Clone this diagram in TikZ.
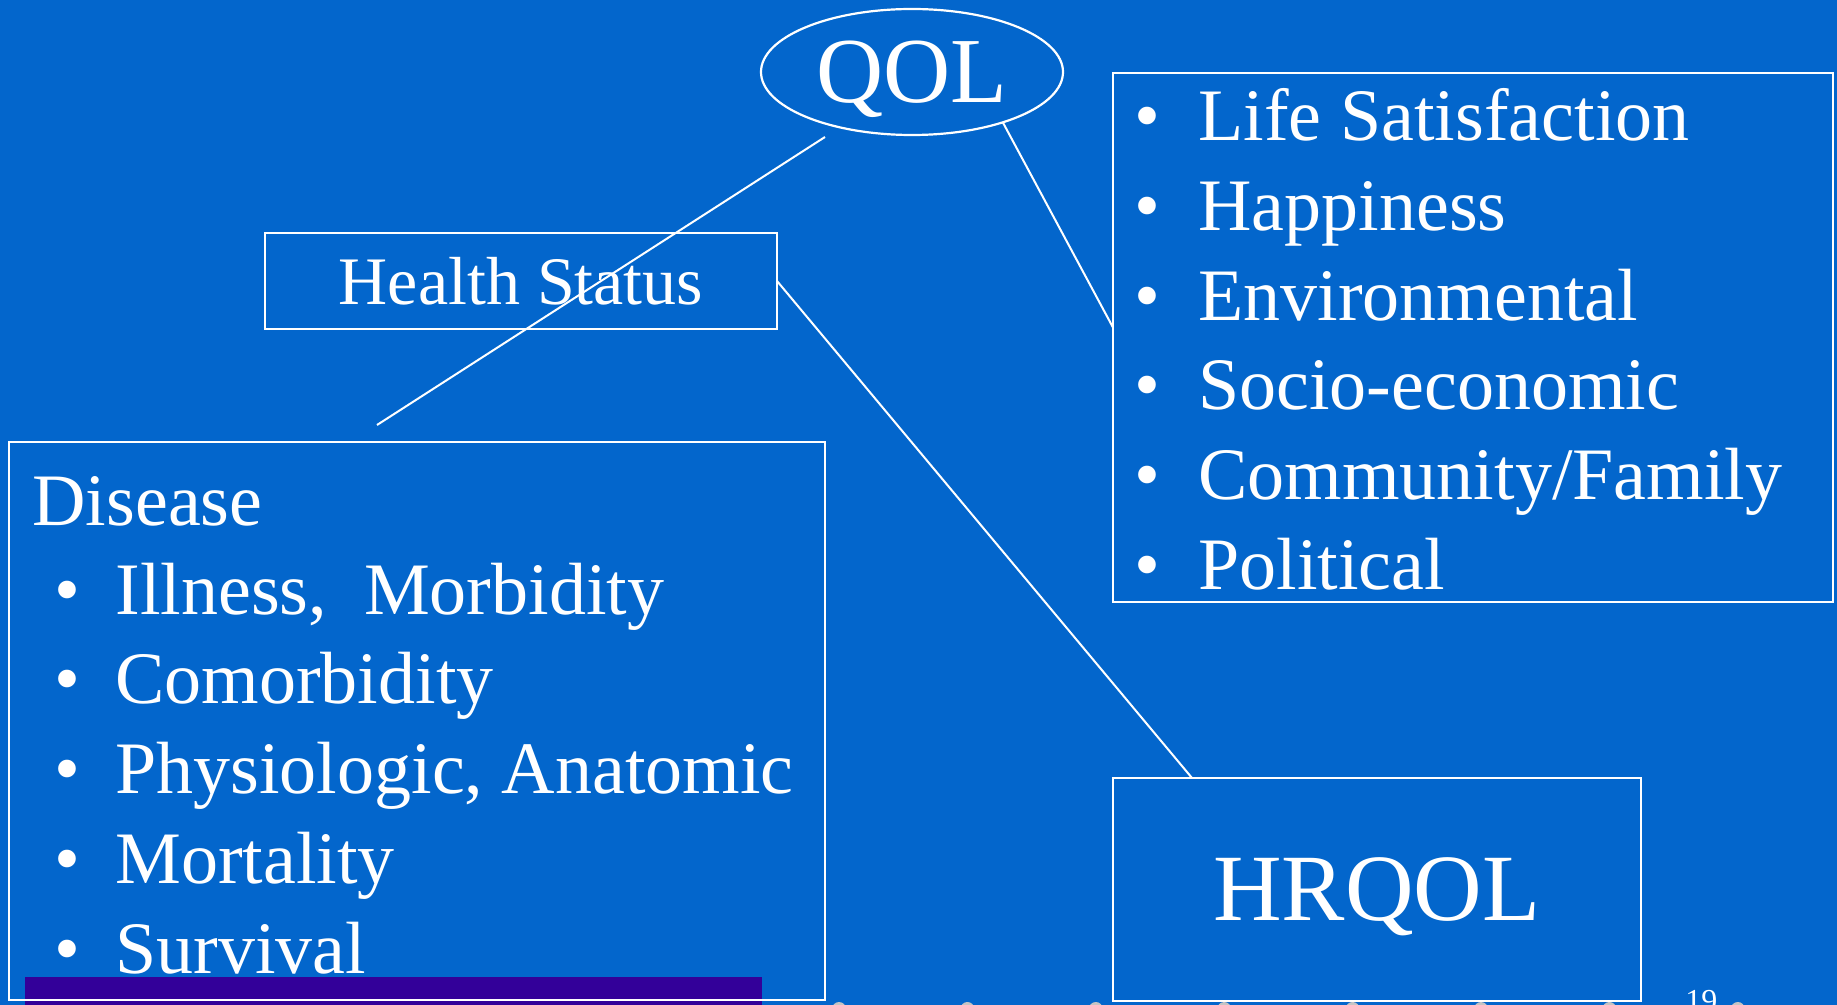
\documentclass[tikz,border=0pt]{standalone}
\usepackage{fontspec}
\setmainfont{Liberation Serif}
\usetikzlibrary{calc,shapes.geometric}

\definecolor{slideblue}{RGB}{3,102,204}
\definecolor{barpurple}{RGB}{51,0,153}
\definecolor{dotgray}{RGB}{196,196,196}

\tikzset{
  frame/.style={draw=white, line width=1.1pt, fill=slideblue, text=white, inner sep=0pt, outer sep=0pt},
  link/.style={white, line width=1pt},
  itemtext/.style={text=white, inner sep=0pt, anchor=base west, font=\fontsize{37}{44}\selectfont},
  bulletmark/.style={text=white, inner sep=0pt, anchor=base, font=\fontsize{37}{44}\selectfont}
}

\begin{document}
\begin{tikzpicture}[x=0.5pt, y=-0.5pt]
\useasboundingbox (0,0) rectangle (1837,1005);
\clip (0,0) rectangle (1837,1005);
\fill[slideblue] (0,0) rectangle (1837,1005);

% slide dots along the bottom
\foreach \i in {0,...,7}
{
    \fill[dotgray] (839+128.4*\i,1009) circle (3.5pt);
}

\node[frame, ellipse, minimum width=151pt, minimum height=63pt, text depth=0pt,
      font=\fontsize{46.5}{56}\selectfont] (qol) at (912,72) {QOL};
\node[frame, minimum width=256pt, minimum height=48pt,
      font=\fontsize{34}{41}\selectfont] (hs) at (521,281) {Health Status};
\node[frame, minimum width=408pt, minimum height=279pt] (dis) at (417,721) {};
\node[frame, minimum width=360pt, minimum height=264.5pt] (list) at (1473,337.5) {};
\node[frame, minimum width=264pt, minimum height=111.5pt, text depth=0pt,
      font=\fontsize{47.5}{57}\selectfont] (hrqol) at (1377,889.5) {HRQOL};

% disease list
\node[itemtext] (distitle) at (32,525) {Disease};
\foreach \t [count=\i] in {{Illness,\ \ Morbidity},Comorbidity,{Physiologic, Anatomic},Mortality,Survival}
{
    \node[bulletmark] (db\i) at (67,614+89.75*\i-89.75) {•};
    \node[itemtext] (di\i) at (115,614+89.75*\i-89.75) {\t};
}

% qol list
\foreach \t [count=\i] in {Life Satisfaction,Happiness,Environmental,Socio-economic,Community/Family,Political}
{
    \node[bulletmark] (qb\i) at (1147,141+89.6*\i-89.6) {•};
    \node[itemtext] (qi\i) at (1198,141+89.6*\i-89.6) {\t};
}

\fill[barpurple] (25,977) rectangle (762,1005);
\draw[white, line width=1.1pt] (dis.south west) -- (dis.south east);

\node[text=white, inner sep=0pt, anchor=north west, font=\fontsize{16}{19}\selectfont] (pagenum) at (1685,990) {19};

\coordinate (qolfoot) at (825,137);
\coordinate (disfoot) at (377,425);
\draw[link] (qolfoot) -- (disfoot);
\draw[link] (qol.-29) -- ($(list.west)+(0,-10)$);
\draw[link] (hs.east) -- ($(hrqol.north west)+(79,0)$);

\end{tikzpicture}
\end{document}
